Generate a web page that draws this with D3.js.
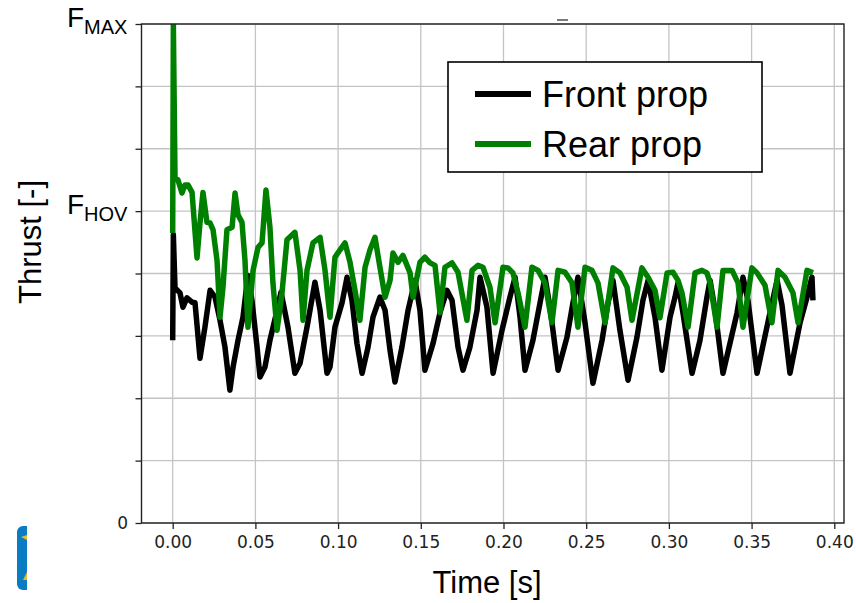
<!DOCTYPE html>
<html lang="en">
<head>
<meta charset="utf-8">
<title>Thrust vs time</title>
<script src="https://d3js.org/d3.v7.min.js"></script>
<style>
  body { margin: 0; background: #fff; }
  svg { display: block; }
</style>
</head>
<body>
<script>
// time [s], thrust in units where F_HOV = 5 and F_MAX = 8
const frontProp = [
  [0.0000, 2.93], [0.0004, 4.62], [0.0014, 3.77], [0.0044, 3.69], [0.0062, 3.46], [0.0086, 3.61],
  [0.0117, 3.54], [0.0135, 3.53], [0.0165, 2.64], [0.0195, 3.14], [0.0226, 3.73], [0.0256, 3.62],
  [0.0286, 3.25], [0.0316, 2.82], [0.0346, 2.13], [0.0365, 2.50], [0.0395, 2.93], [0.0425, 3.30],
  [0.0455, 3.97], [0.0479, 3.57], [0.0510, 2.82], [0.0528, 2.34], [0.0558, 2.50], [0.0588, 2.93],
  [0.0631, 3.41], [0.0655, 3.70], [0.0697, 3.14], [0.0739, 2.40], [0.0770, 2.56], [0.0812, 3.14],
  [0.0860, 3.86], [0.0891, 3.41], [0.0933, 2.40], [0.0951, 2.50], [0.0981, 3.14], [0.1024, 3.53],
  [0.1054, 3.94], [0.1084, 3.57], [0.1114, 2.88], [0.1145, 2.40], [0.1181, 2.82], [0.1211, 3.30],
  [0.1253, 3.62], [0.1284, 3.41], [0.1314, 2.77], [0.1344, 2.26], [0.1386, 2.82], [0.1423, 3.41],
  [0.1465, 3.89], [0.1495, 3.41], [0.1525, 2.45], [0.1574, 2.88], [0.1616, 3.37], [0.1658, 3.73],
  [0.1689, 3.57], [0.1725, 2.82], [0.1755, 2.45], [0.1797, 2.82], [0.1840, 3.41], [0.1858, 3.94],
  [0.1900, 3.46], [0.1937, 2.40], [0.1991, 3.09], [0.2039, 3.62], [0.2070, 3.94], [0.2100, 3.30],
  [0.2130, 2.45], [0.2178, 2.93], [0.2221, 3.53], [0.2251, 3.94], [0.2281, 3.46], [0.2330, 2.45],
  [0.2384, 2.98], [0.2420, 3.53], [0.2450, 3.94], [0.2493, 3.21], [0.2541, 2.24], [0.2596, 2.93],
  [0.2632, 3.53], [0.2662, 3.89], [0.2704, 3.09], [0.2753, 2.29], [0.2807, 2.98], [0.2843, 3.57],
  [0.2874, 3.89], [0.2916, 3.30], [0.2958, 2.45], [0.3007, 3.30], [0.3037, 3.62], [0.3055, 3.85],
  [0.3085, 3.37], [0.3140, 2.40], [0.3188, 2.93], [0.3230, 3.62], [0.3249, 3.89], [0.3279, 3.41],
  [0.3327, 2.40], [0.3412, 3.37], [0.3448, 3.94], [0.3478, 3.57], [0.3533, 2.40], [0.3611, 3.37],
  [0.3654, 3.89], [0.3684, 3.49], [0.3732, 2.40], [0.3793, 3.21], [0.3835, 3.62], [0.3865, 3.94],
  [0.3871, 3.57]
]

const rearProp = [
  [0.0000, 4.65], [0.0004, 8.00], [0.0014, 5.53], [0.0032, 5.50], [0.0056, 5.29], [0.0074, 5.42],
  [0.0093, 5.42], [0.0117, 5.30], [0.0147, 4.25], [0.0165, 4.81], [0.0183, 5.30], [0.0207, 4.82],
  [0.0226, 4.81], [0.0244, 4.70], [0.0268, 4.21], [0.0286, 3.30], [0.0304, 3.78], [0.0328, 4.70],
  [0.0359, 4.74], [0.0377, 5.29], [0.0395, 4.94], [0.0419, 4.82], [0.0437, 4.21], [0.0455, 3.14],
  [0.0486, 4.05], [0.0516, 4.42], [0.0540, 4.49], [0.0564, 5.34], [0.0588, 4.74], [0.0606, 3.85],
  [0.0631, 3.09], [0.0661, 3.69], [0.0691, 4.54], [0.0739, 4.66], [0.0770, 4.05], [0.0788, 3.25],
  [0.0812, 4.05], [0.0848, 4.49], [0.0891, 4.58], [0.0921, 4.05], [0.0951, 3.30], [0.0981, 4.26],
  [0.1012, 4.38], [0.1042, 4.49], [0.1072, 4.18], [0.1102, 3.73], [0.1132, 3.25], [0.1163, 4.10],
  [0.1193, 4.38], [0.1223, 4.58], [0.1253, 4.10], [0.1284, 3.62], [0.1314, 3.89], [0.1332, 4.33],
  [0.1362, 4.18], [0.1392, 4.29], [0.1435, 4.01], [0.1453, 3.62], [0.1495, 4.18], [0.1525, 4.26],
  [0.1556, 4.17], [0.1586, 4.13], [0.1616, 3.37], [0.1646, 4.10], [0.1689, 4.17], [0.1725, 4.02],
  [0.1779, 3.25], [0.1810, 4.05], [0.1846, 4.13], [0.1876, 4.10], [0.1918, 3.78], [0.1949, 3.21],
  [0.1997, 4.10], [0.2027, 4.09], [0.2057, 4.01], [0.2088, 3.69], [0.2130, 3.14], [0.2172, 4.10],
  [0.2209, 4.05], [0.2251, 3.85], [0.2293, 3.21], [0.2330, 4.05], [0.2372, 4.02], [0.2414, 3.85],
  [0.2450, 3.14], [0.2493, 4.10], [0.2535, 4.05], [0.2571, 3.85], [0.2614, 3.21], [0.2662, 4.09],
  [0.2704, 4.01], [0.2747, 3.78], [0.2777, 3.25], [0.2837, 4.09], [0.2874, 3.94], [0.2916, 3.73],
  [0.2946, 3.29], [0.2989, 4.01], [0.3025, 4.02], [0.3055, 3.89], [0.3079, 3.69], [0.3116, 3.14],
  [0.3158, 4.01], [0.3200, 4.05], [0.3230, 4.01], [0.3249, 3.85], [0.3291, 3.14], [0.3327, 4.05],
  [0.3382, 4.05], [0.3418, 3.85], [0.3448, 3.14], [0.3502, 4.09], [0.3533, 4.01], [0.3581, 3.81],
  [0.3623, 3.21], [0.3660, 4.05], [0.3702, 3.94], [0.3750, 3.69], [0.3781, 3.21], [0.3835, 4.05],
  [0.3871, 4.01]
]

const xTicks = [0, 0.05, 0.10, 0.15, 0.20, 0.25, 0.30, 0.35, 0.40]
const yTicks = [0, 1, 2, 3, 4, 5, 6, 7, 8]
const yLabels = [
  { v: 0, main: "0", sub: "" },
  { v: 5, main: "F", sub: "HOV" },
  { v: 8, main: "F", sub: "MAX" }
]
const seriesNames = ["Front prop", "Rear prop"]
const seriesColors = ["#000000", "#008000"]

const w = 856, h = 603
const plot = { left: 141.5, right: 844, top: 24, bottom: 523 }

const svg = d3.select("body").append("svg")
  .attr("width", w)
  .attr("height", h)

const x = d3.scaleLinear().domain([-0.01886, 0.40587]).range([plot.left, plot.right])
const y = d3.scaleLinear().domain([0, 8]).range([plot.bottom, plot.top])

// grid
const grid = svg.append("g").attr("stroke", "#c4c4c4").attr("stroke-width", 1.3)
grid.selectAll("line.v").data(xTicks).enter().append("line")
  .attr("x1", d => x(d)).attr("x2", d => x(d))
  .attr("y1", plot.top).attr("y2", plot.bottom)
grid.selectAll("line.h").data(yTicks).enter().append("line")
  .attr("y1", d => y(d)).attr("y2", d => y(d))
  .attr("x1", plot.left).attr("x2", plot.right)

// data lines
svg.append("clipPath").attr("id", "clip").append("rect")
  .attr("x", plot.left).attr("y", plot.top)
  .attr("width", plot.right - plot.left).attr("height", plot.bottom - plot.top)

const line = d3.line().x(d => x(d[0])).y(d => y(d[1]))
const lines = svg.append("g").attr("clip-path", "url(#clip)")
;[frontProp, rearProp].forEach((data, i) => {
  lines.append("path")
    .datum(data)
    .attr("d", line)
    .attr("fill", "none")
    .attr("stroke", seriesColors[i])
    .attr("stroke-width", 5.5)
    .attr("stroke-linejoin", "round")
    .attr("stroke-linecap", "butt")
})

// axes
const xAxis = svg.append("g")
  .attr("transform", `translate(0,${plot.bottom})`)
  .call(d3.axisBottom(x).tickValues(xTicks).tickFormat(d3.format(".2f")).tickSizeOuter(0).tickSize(6).tickPadding(7))
const yAxis = svg.append("g")
  .attr("transform", `translate(${plot.left},0)`)
  .call(d3.axisLeft(y).tickValues(yTicks).tickFormat(() => "").tickSizeOuter(0).tickSize(6))

;[xAxis, yAxis].forEach(g => {
  g.select(".domain").remove()
  g.selectAll(".tick line").attr("stroke", "#222").attr("stroke-width", 1.3)
  g.selectAll("text").attr("font-family", "DejaVu Sans").attr("font-size", "17px").attr("fill", "#222")
})

// frame
svg.append("rect")
  .attr("x", plot.left).attr("y", plot.top)
  .attr("width", plot.right - plot.left).attr("height", plot.bottom - plot.top)
  .attr("fill", "none").attr("stroke", "#222").attr("stroke-width", 1.4)

// y tick labels
yLabels.forEach(l => {
  if (l.sub === "") {
    svg.append("text")
      .attr("x", 128).attr("y", y(l.v) + 6)
      .attr("text-anchor", "end")
      .attr("font-family", "DejaVu Sans").attr("font-size", "17px").attr("fill", "#222")
      .text(l.main)
  } else {
    const t = svg.append("text")
      .attr("x", 67).attr("y", y(l.v) + 3)
      .attr("font-family", "Liberation Sans, Arial, sans-serif").attr("fill", "#000")
    t.append("tspan").attr("font-size", "28px").text(l.main)
    t.append("tspan").attr("font-size", "20px").attr("dy", 7).text(l.sub)
  }
})

// axis titles
svg.append("text")
  .attr("x", 487).attr("y", 593)
  .attr("text-anchor", "middle")
  .attr("font-family", "Liberation Sans, Arial, sans-serif").attr("font-size", "31px")
  .text("Time [s]")
svg.append("text")
  .attr("transform", "translate(41,242) rotate(-90)")
  .attr("text-anchor", "middle")
  .attr("font-family", "Liberation Sans, Arial, sans-serif").attr("font-size", "31px")
  .text("Thrust [-]")

// legend
const legend = svg.append("g")
legend.append("rect")
  .attr("x", 448).attr("y", 62).attr("width", 314).attr("height", 110)
  .attr("fill", "#fff").attr("stroke", "#000").attr("stroke-width", 1.6)
seriesNames.forEach((name, i) => {
  const ly = 94 + i * 50
  legend.append("line")
    .attr("x1", 475).attr("x2", 531).attr("y1", ly).attr("y2", ly)
    .attr("stroke", seriesColors[i]).attr("stroke-width", 6)
  legend.append("text")
    .attr("x", 542).attr("y", ly + 13)
    .attr("font-family", "Liberation Sans, Arial, sans-serif").attr("font-size", "36px")
    .text(name)
})

// stray mark above the plot
svg.append("line")
  .attr("x1", 557).attr("x2", 568).attr("y1", 20).attr("y2", 20)
  .attr("stroke", "#333").attr("stroke-width", 1.3)

// cropped logo at bottom-left
svg.append("clipPath").attr("id", "logoclip").append("rect")
  .attr("x", 0).attr("y", 0).attr("width", 27).attr("height", h)
const logo = svg.append("g").attr("clip-path", "url(#logoclip)")
logo.append("rect")
  .attr("x", 17).attr("y", 526).attr("width", 30).attr("height", 64).attr("rx", 6)
  .attr("fill", "#0a7cc2")
logo.append("path").attr("d", "M21,537 L27,535 L27,540 Z").attr("fill", "#e8b830")
logo.append("path").attr("d", "M23,580 L27,572 L27,580 Z").attr("fill", "#e8b830")
</script>
</body>
</html>
